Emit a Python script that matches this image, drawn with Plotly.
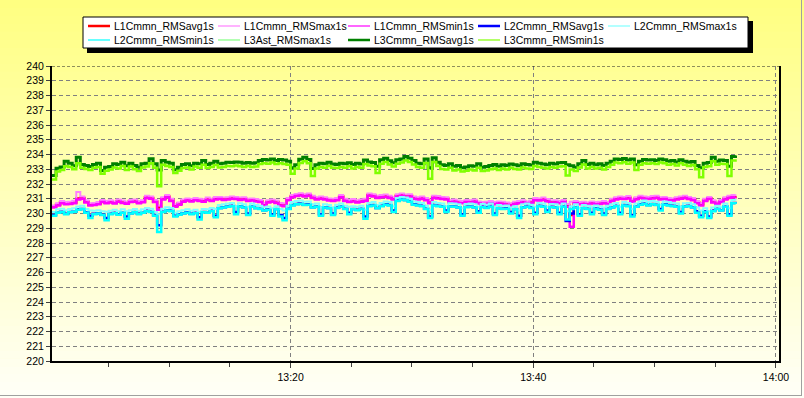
import pandas as pd
import plotly.graph_objects as go

START = "2021-03-15 13:00:20"
STEP = "20s"

L1_avg = [230.45, 230.60, 230.76, 230.66, 230.70, 230.75, 231.02, 231.05, 230.80, 230.60,
          230.63, 230.68, 230.82, 230.75, 230.80, 230.73, 230.85, 230.77, 230.72, 230.82,
          230.86, 230.74, 230.82, 231.10, 231.05, 230.82, 230.40, 231.00, 231.15, 230.90,
          230.52, 230.66, 230.85, 230.92, 230.88, 230.95, 230.90, 230.86, 230.97, 230.90,
          231.00, 231.03, 230.97, 231.00, 231.05, 231.02, 230.98, 231.00, 230.90, 230.93,
          230.87, 230.83, 230.62, 230.80, 230.85, 230.78, 230.62, 230.58, 230.95, 231.15,
          231.22, 231.27, 231.20, 231.25, 231.10, 231.00, 231.05, 231.00, 230.93, 230.90,
          230.95, 231.15, 230.90, 230.83, 230.87, 230.80, 230.85, 230.90, 231.25, 231.20,
          231.10, 231.15, 231.17, 231.10, 231.00, 231.20, 231.25, 231.17, 231.20, 231.05,
          231.00, 231.05, 230.95, 230.78, 231.10, 231.07, 231.03, 231.00, 230.80, 230.85,
          230.77, 230.76, 230.83, 230.80, 230.85, 230.73, 230.68, 230.70, 230.75, 230.67,
          230.73, 230.70, 230.65, 230.61, 230.70, 230.75, 230.80, 230.73, 230.77, 230.95,
          230.93, 230.97, 230.87, 230.77, 230.80, 230.75, 230.83, 230.55, 229.90, 230.75,
          230.67, 230.70, 230.65, 230.73, 230.67, 230.70, 230.75, 230.67, 230.90, 231.00,
          231.05, 231.03, 231.07, 230.86, 231.00, 231.10, 231.05, 231.03, 231.07, 231.10,
          231.00, 231.03, 230.95, 230.93, 231.00, 231.05, 231.10, 231.03, 230.95, 230.76,
          230.62, 230.90, 231.03, 230.80, 230.70, 230.83, 231.00, 231.10, 231.15, 231.17]

L1_max = [230.55, 230.70, 230.85, 230.78, 230.80, 230.86, 231.45, 231.15, 230.90, 230.70,
          230.72, 230.78, 230.92, 230.85, 230.90, 230.82, 230.95, 230.88, 230.80, 230.92,
          230.95, 230.85, 230.90, 231.20, 231.15, 230.92, 230.55, 231.10, 231.25, 231.00,
          230.62, 230.75, 230.95, 231.02, 230.98, 231.05, 231.00, 230.96, 231.08, 231.00,
          231.12, 231.12, 231.08, 231.10, 231.15, 231.12, 231.08, 231.10, 231.00, 231.02,
          230.98, 230.92, 230.72, 230.90, 230.95, 230.88, 230.72, 230.68, 231.05, 231.25,
          231.32, 231.38, 231.30, 231.35, 231.20, 231.10, 231.15, 231.10, 231.02, 231.00,
          231.05, 231.25, 231.00, 230.92, 230.98, 230.90, 230.95, 231.00, 231.35, 231.30,
          231.20, 231.25, 231.28, 231.20, 231.10, 231.30, 231.35, 231.28, 231.30, 231.15,
          231.10, 231.15, 231.05, 230.88, 231.20, 231.18, 231.12, 231.10, 230.90, 230.95,
          230.88, 230.85, 230.92, 230.90, 230.95, 230.82, 230.78, 230.80, 230.85, 230.78,
          230.82, 230.80, 230.75, 230.70, 230.80, 230.85, 230.90, 230.82, 230.88, 231.05,
          231.02, 231.08, 230.98, 230.88, 230.90, 230.85, 230.92, 230.65, 230.80, 230.85,
          230.78, 230.80, 230.75, 230.82, 230.78, 230.80, 230.85, 230.78, 231.00, 231.10,
          231.15, 231.12, 231.18, 230.95, 231.10, 231.20, 231.15, 231.12, 231.18, 231.20,
          231.10, 231.12, 231.05, 231.02, 231.10, 231.15, 231.20, 231.12, 231.05, 230.85,
          230.72, 231.00, 231.12, 230.90, 230.80, 230.92, 231.10, 231.20, 231.25, 231.28]

L1_min = [230.40, 230.55, 230.70, 230.62, 230.65, 230.70, 230.95, 231.00, 230.75, 230.55,
          230.58, 230.62, 230.78, 230.70, 230.75, 230.68, 230.80, 230.72, 230.66, 230.78,
          230.80, 230.70, 230.76, 231.05, 231.00, 230.78, 230.25, 230.95, 231.10, 230.85,
          230.45, 230.60, 230.80, 230.88, 230.82, 230.90, 230.85, 230.80, 230.92, 230.85,
          230.95, 230.98, 230.92, 230.95, 231.00, 230.98, 230.92, 230.95, 230.85, 230.88,
          230.82, 230.78, 230.55, 230.75, 230.80, 230.72, 230.55, 230.50, 230.90, 231.10,
          231.18, 231.22, 231.15, 231.20, 231.05, 230.95, 231.00, 230.95, 230.88, 230.85,
          230.90, 231.10, 230.85, 230.78, 230.82, 230.75, 230.80, 230.85, 231.20, 231.15,
          231.05, 231.10, 231.12, 231.05, 230.95, 231.15, 231.20, 231.12, 231.15, 231.00,
          230.95, 231.00, 230.90, 230.70, 231.05, 231.02, 230.98, 230.95, 230.75, 230.80,
          230.72, 230.70, 230.78, 230.75, 230.80, 230.68, 230.62, 230.65, 230.70, 230.62,
          230.68, 230.65, 230.60, 230.55, 230.65, 230.70, 230.75, 230.68, 230.72, 230.90,
          230.88, 230.92, 230.82, 230.72, 230.75, 230.70, 230.78, 230.45, 229.10, 230.70,
          230.62, 230.65, 230.60, 230.68, 230.62, 230.65, 230.70, 230.62, 230.85, 230.95,
          231.00, 230.98, 231.02, 230.80, 230.95, 231.05, 231.00, 230.98, 231.02, 231.05,
          230.95, 230.98, 230.90, 230.88, 230.95, 231.00, 231.05, 230.98, 230.90, 230.70,
          230.55, 230.85, 230.98, 230.75, 230.65, 230.78, 230.95, 231.05, 231.10, 231.12]

L2_avg = [229.90, 230.05, 230.12, 229.98, 230.10, 230.12, 230.28, 230.30, 230.08, 229.85,
          229.98, 230.02, 229.92, 229.70, 229.98, 230.05, 229.95, 230.05, 229.80, 230.02,
          230.10, 229.98, 230.05, 230.18, 230.12, 229.90, 229.20, 230.12, 230.22, 230.18,
          229.85, 229.95, 230.02, 230.08, 229.98, 230.05, 229.75, 230.10, 230.05, 230.18,
          229.85, 230.38, 230.42, 230.48, 230.52, 230.10, 230.50, 230.42, 230.00, 230.48,
          230.38, 230.32, 230.22, 230.28, 229.95, 230.30, 229.90, 229.70, 230.32, 230.58,
          230.65, 230.68, 230.60, 230.62, 230.42, 230.48, 229.95, 230.42, 230.38, 230.00,
          230.40, 230.48, 230.32, 230.05, 230.30, 230.25, 230.32, 229.80, 230.52, 230.58,
          230.38, 230.52, 230.62, 230.58, 230.20, 230.88, 230.98, 230.92, 230.82, 230.62,
          230.58, 230.52, 230.32, 229.80, 230.58, 230.52, 230.48, 230.20, 230.50, 230.48,
          230.42, 229.95, 230.45, 230.48, 230.42, 230.15, 230.45, 230.40, 230.48, 230.00,
          230.38, 230.32, 230.35, 230.10, 230.30, 229.85, 230.42, 230.48, 230.40, 230.05,
          230.52, 230.48, 230.20, 230.45, 230.42, 230.05, 230.48, 229.50, 230.00, 230.42,
          229.95, 230.38, 230.32, 230.05, 230.35, 230.28, 230.00, 230.32, 230.42, 230.52,
          230.05, 230.58, 230.52, 229.90, 230.48, 230.62, 230.68, 230.58, 230.65, 230.60,
          230.30, 230.62, 230.58, 230.52, 230.48, 230.10, 230.50, 230.52, 230.42, 230.15,
          229.85, 230.15, 229.80, 230.20, 230.32, 230.22, 230.48, 229.95, 230.72, 230.68]

L2_max = [230.10, 230.28, 230.32, 230.22, 230.30, 230.35, 230.48, 230.52, 230.30, 230.20,
          230.18, 230.22, 230.15, 230.12, 230.18, 230.25, 230.15, 230.28, 230.15, 230.22,
          230.30, 230.18, 230.28, 230.38, 230.32, 230.10, 229.95, 230.32, 230.42, 230.38,
          230.05, 230.15, 230.22, 230.28, 230.18, 230.25, 230.12, 230.30, 230.28, 230.38,
          230.30, 230.58, 230.62, 230.68, 230.72, 230.50, 230.70, 230.62, 230.45, 230.68,
          230.58, 230.52, 230.42, 230.48, 230.35, 230.50, 230.30, 230.20, 230.52, 230.78,
          230.85, 230.88, 230.80, 230.82, 230.62, 230.68, 230.40, 230.62, 230.58, 230.40,
          230.60, 230.68, 230.52, 230.45, 230.50, 230.45, 230.52, 230.25, 230.72, 230.78,
          230.58, 230.72, 230.82, 230.78, 230.50, 231.05, 231.12, 231.08, 231.00, 230.82,
          230.78, 230.72, 230.52, 230.25, 230.78, 230.72, 230.68, 230.50, 230.70, 230.68,
          230.62, 230.35, 230.65, 230.68, 230.62, 230.45, 230.65, 230.60, 230.68, 230.40,
          230.58, 230.52, 230.55, 230.40, 230.50, 230.20, 230.62, 230.68, 230.60, 230.45,
          230.72, 230.68, 230.45, 230.65, 230.62, 230.45, 230.68, 230.15, 230.50, 230.62,
          230.35, 230.58, 230.52, 230.45, 230.55, 230.48, 230.40, 230.52, 230.62, 230.72,
          230.45, 230.78, 230.72, 230.30, 230.68, 230.82, 230.88, 230.78, 230.85, 230.80,
          230.60, 230.82, 230.78, 230.72, 230.68, 230.45, 230.70, 230.72, 230.62, 230.40,
          230.20, 230.35, 230.15, 230.40, 230.52, 230.42, 230.68, 230.35, 230.92, 230.88]

L2_min = [229.85, 230.05, 230.10, 229.95, 230.08, 230.12, 230.25, 230.30, 230.05, 229.70,
          229.95, 230.00, 229.90, 229.55, 229.95, 230.02, 229.92, 230.05, 229.65, 230.00,
          230.08, 229.95, 230.05, 230.15, 230.10, 229.85, 228.75, 230.10, 230.20, 230.15,
          229.80, 229.92, 230.00, 230.05, 229.95, 230.02, 229.60, 230.08, 230.05, 230.15,
          229.75, 230.35, 230.40, 230.45, 230.50, 229.95, 230.48, 230.40, 229.90, 230.45,
          230.35, 230.30, 230.20, 230.25, 229.85, 230.28, 229.80, 229.55, 230.30, 230.55,
          230.62, 230.65, 230.58, 230.60, 230.40, 230.45, 229.85, 230.40, 230.35, 229.90,
          230.38, 230.45, 230.30, 229.95, 230.28, 230.22, 230.30, 229.65, 230.50, 230.55,
          230.35, 230.50, 230.60, 230.55, 230.10, 230.85, 230.95, 230.90, 230.80, 230.60,
          230.55, 230.50, 230.30, 229.70, 230.55, 230.50, 230.45, 230.10, 230.48, 230.45,
          230.40, 229.85, 230.42, 230.45, 230.40, 230.05, 230.42, 230.38, 230.45, 229.90,
          230.35, 230.30, 230.32, 230.00, 230.28, 229.70, 230.40, 230.45, 230.38, 229.95,
          230.50, 230.45, 230.10, 230.42, 230.40, 229.95, 230.45, 229.60, 230.30, 230.40,
          229.85, 230.35, 230.30, 229.95, 230.32, 230.25, 229.90, 230.30, 230.40, 230.50,
          229.95, 230.55, 230.50, 229.80, 230.45, 230.60, 230.65, 230.55, 230.62, 230.58,
          230.20, 230.60, 230.55, 230.50, 230.45, 230.00, 230.48, 230.50, 230.40, 230.05,
          229.75, 230.10, 229.70, 230.15, 230.30, 230.20, 230.45, 229.85, 230.70, 230.65]

L3_avg = [232.57, 233.07, 233.16, 233.55, 233.41, 233.23, 233.82, 233.32, 233.25, 233.18,
          233.32, 233.41, 232.91, 233.14, 233.18, 233.37, 233.32, 233.48, 233.23, 233.41,
          233.25, 233.14, 233.37, 233.41, 233.71, 233.37, 232.95, 233.59, 233.48, 233.41,
          232.96, 233.14, 233.32, 233.37, 233.23, 233.41, 233.37, 233.59, 233.32, 233.41,
          233.55, 233.37, 233.41, 233.48, 233.45, 233.50, 233.48, 233.41, 233.46, 233.41,
          233.44, 233.60, 233.66, 233.62, 233.70, 233.60, 233.66, 233.62, 233.55, 233.10,
          233.30, 233.68, 233.82, 233.66, 233.05, 233.30, 233.40, 233.37, 233.48, 233.36,
          233.32, 233.41, 233.37, 233.44, 233.32, 233.40, 233.36, 233.62, 233.50, 233.46,
          233.20, 233.64, 233.75, 233.58, 233.44, 233.64, 233.70, 233.86, 233.75, 233.59,
          233.41, 233.37, 233.70, 233.10, 233.78, 233.48, 233.30, 233.25, 233.37, 233.20,
          233.25, 233.10, 233.16, 233.23, 233.20, 233.37, 233.14, 233.18, 233.25, 233.32,
          233.20, 233.30, 233.25, 233.35, 233.30, 233.23, 233.37, 233.32, 233.28, 233.48,
          233.41, 233.35, 233.30, 233.41, 233.35, 233.44, 233.46, 233.30, 233.23, 233.14,
          233.37, 233.59, 233.32, 233.41, 233.30, 233.37, 233.25, 233.41, 233.55, 233.70,
          233.66, 233.73, 233.62, 233.70, 233.30, 233.55, 233.66, 233.62, 233.64, 233.59,
          233.70, 233.64, 233.55, 233.59, 233.50, 233.64, 233.55, 233.48, 233.52, 233.25,
          233.10, 233.41, 233.46, 233.82, 233.55, 233.62, 233.59, 233.20, 233.86, 233.93]

L3Ast_max = L3_avg  # drawn underneath the L3 average, not distinguishable in the picture

L3_min = [232.30, 232.85, 232.95, 233.20, 233.15, 233.00, 233.40, 233.10, 233.02, 232.95,
          233.10, 233.15, 232.70, 232.90, 232.98, 233.12, 233.05, 233.22, 232.95, 233.18,
          233.00, 232.88, 233.12, 233.18, 233.40, 233.10, 231.85, 233.30, 233.22, 233.15,
          232.75, 232.90, 233.08, 233.12, 232.98, 233.18, 233.10, 233.30, 233.08, 233.15,
          233.28, 233.12, 233.15, 233.22, 233.20, 233.25, 233.20, 233.15, 233.22, 233.15,
          233.18, 233.35, 233.40, 233.38, 233.45, 233.35, 233.40, 233.35, 233.30, 232.70,
          233.05, 233.42, 233.55, 233.40, 232.55, 233.05, 233.15, 233.10, 233.22, 233.10,
          233.08, 233.15, 233.10, 233.20, 233.05, 233.15, 233.10, 233.35, 233.25, 233.20,
          232.75, 233.38, 233.50, 233.32, 233.18, 233.38, 233.45, 233.60, 233.50, 233.32,
          233.15, 233.10, 233.42, 232.35, 233.50, 233.22, 233.02, 232.98, 233.10, 232.92,
          232.98, 232.85, 232.90, 232.98, 232.92, 233.10, 232.88, 232.92, 233.00, 233.05,
          232.95, 233.05, 232.98, 233.10, 233.02, 232.98, 233.12, 233.05, 233.02, 233.22,
          233.15, 233.10, 233.05, 233.15, 233.10, 233.18, 233.20, 232.57, 232.98, 232.88,
          233.12, 233.32, 233.05, 233.15, 233.05, 233.10, 232.98, 233.15, 233.30, 233.45,
          233.40, 233.48, 233.38, 233.45, 232.95, 233.30, 233.40, 233.38, 233.40, 233.35,
          233.45, 233.40, 233.30, 233.35, 233.25, 233.40, 233.30, 233.22, 233.28, 233.00,
          232.45, 233.15, 233.20, 233.55, 233.30, 233.38, 233.35, 232.55, 233.60, 233.68]

names = ["L1Cmmn_RMSavg1s", "L1Cmmn_RMSmax1s", "L1Cmmn_RMSmin1s",
         "L2Cmmn_RMSavg1s", "L2Cmmn_RMSmax1s", "L2Cmmn_RMSmin1s",
         "L3Ast_RMSmax1s", "L3Cmmn_RMSavg1s", "L3Cmmn_RMSmin1s"]
series = [L1_avg, L1_max, L1_min, L2_avg, L2_max, L2_min, L3Ast_max, L3_avg, L3_min]
colors = ["#FF0000", "#FF80FF", "#FF00FF", "#0000FF", "#80FFFF", "#00FFFF",
          "#80FF80", "#008000", "#80FF00"]
trace_widths = [2.5, 2, 2.5, 2.5, 2, 2.5, 1, 3, 2.5]
legend_widths = [2.5, 1.2, 1.2, 2.5, 1.2, 1.2, 1.2, 2.5, 1.2]

Y_RANGE = [220, 240]
X_RANGE = ["2021-03-15 13:00:20", "2021-03-15 14:00:15"]

times = pd.date_range(START, periods=len(L3_avg), freq=STEP)

# ---- geometry (pixels) ----
W, H = 804, 398
ML, MR, MT, MB = 52, 25, 66, 37
PW, PH = W - ML - MR, H - MT - MB


def px_x(px):
    return (px - ML) / PW


def px_y(py):
    return (MT + PH - py) / PH


FONT = "Liberation Sans, Arial, sans-serif"

fig = go.Figure()
for name, ys, c, w in zip(names, series, colors, trace_widths):
    fig.add_trace(go.Scatter(x=times, y=ys, name=name, mode="lines",
                             line=dict(color=c, width=w, shape="hv"),
                             hoverinfo="skip"))

shapes = []
# background vertical gradient (yellow -> near white)
N = 50
for k in range(N):
    y0 = H * k / N
    y1 = H * (k + 1) / N + 0.6
    f = (k + 0.5) / N
    b = int(round(128 + (248 - 128) * f))
    shapes.append(dict(type="rect", xref="paper", yref="paper", layer="below",
                       x0=px_x(-1), x1=px_x(W + 1), y0=px_y(y1), y1=px_y(y0),
                       line=dict(width=0), fillcolor=f"rgb(255,255,{b})"))

# dashed top frame of the plot area
shapes.append(dict(type="line", xref="paper", yref="y", x0=0, x1=1,
                   y0=Y_RANGE[1], y1=Y_RANGE[1],
                   line=dict(color="#202020", width=1, dash="3px,2px")))

# outer frame (right / bottom)
shapes.append(dict(type="line", xref="paper", yref="paper",
                   x0=px_x(801.5), x1=px_x(801.5), y0=px_y(0), y1=px_y(396),
                   line=dict(color="#A0A0A0", width=1)))
shapes.append(dict(type="line", xref="paper", yref="paper",
                   x0=px_x(0), x1=px_x(802), y0=px_y(395.5), y1=px_y(395.5),
                   line=dict(color="#A0A0A0", width=1)))

# legend box with shadow
shapes.append(dict(type="rect", xref="paper", yref="paper",
                   x0=px_x(87), x1=px_x(753), y0=px_y(53), y1=px_y(21),
                   line=dict(width=0), fillcolor="black"))
shapes.append(dict(type="rect", xref="paper", yref="paper",
                   x0=px_x(83), x1=px_x(748), y0=px_y(48), y1=px_y(17),
                   line=dict(width=1, color="black"), fillcolor="white"))

annotations = []
for idx, (name, c, w) in enumerate(zip(names, colors, legend_widths)):
    row, col = divmod(idx, 5)
    tx = 113 + 130 * col
    ty = 26 + 14 * row
    shapes.append(dict(type="line", xref="paper", yref="paper",
                       x0=px_x(tx - 25), x1=px_x(tx - 3), y0=px_y(ty), y1=px_y(ty),
                       line=dict(color=c, width=w)))
    annotations.append(dict(text=name, xref="paper", yref="paper",
                            x=px_x(tx - 1), y=px_y(ty), xanchor="left", yanchor="middle",
                            showarrow=False, font=dict(family=FONT, size=10.5, color="black")))

fig.update_layout(
    width=W, height=H,
    margin=dict(l=ML, r=MR, t=MT, b=MB, pad=0),
    paper_bgcolor="#FFFFC0",
    plot_bgcolor="rgba(0,0,0,0)",
    showlegend=False,
    font=dict(family=FONT, size=10.5, color="black"),
    shapes=shapes,
    annotations=annotations,
)

fig.update_xaxes(
    type="date", range=X_RANGE,
    tickformat="%H:%M", dtick=20 * 60 * 1000, tick0="2021-03-15 13:00:00",
    ticks="outside", ticklen=5, tickcolor="#404040", tickwidth=1,
    showgrid=True, gridcolor="#808080", gridwidth=1, griddash="4px,3px",
    showline=True, linecolor="black", linewidth=2, mirror=False,
    zeroline=False, ticklabelstandoff=0,
    minor=dict(dtick=5 * 60 * 1000, tick0="2021-03-15 13:00:00", ticks="outside",
               ticklen=4, tickcolor="#404040", showgrid=False),
    tickfont=dict(family=FONT, size=10.5, color="black"),
)
fig.update_yaxes(
    range=Y_RANGE, dtick=1, tick0=220,
    ticks="outside", ticklen=4, tickcolor="#404040", tickwidth=1,
    showgrid=True, gridcolor="#808080", gridwidth=1, griddash="4px,3px",
    showline=True, linecolor="black", linewidth=2, mirror=True,
    zeroline=False,
    tickfont=dict(family=FONT, size=10.5, color="black"),
)

fig.write_html("out.html")
